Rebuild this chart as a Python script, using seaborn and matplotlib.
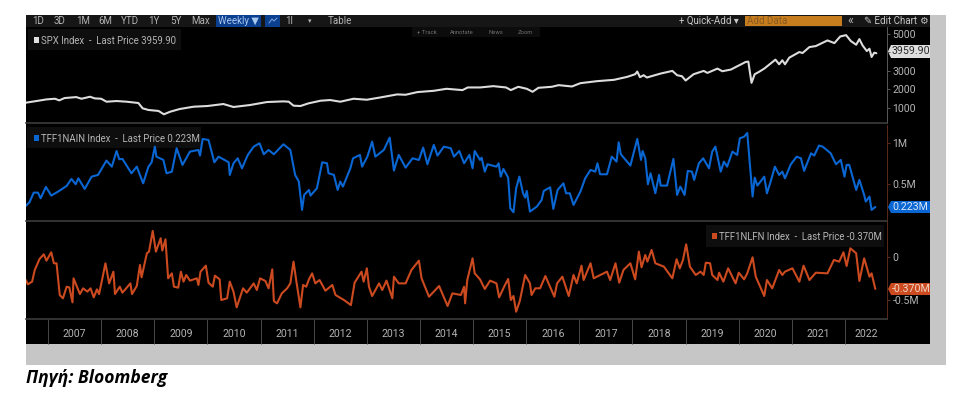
import matplotlib
matplotlib.use("Agg")
import matplotlib.pyplot as plt
from matplotlib.patches import Rectangle, Polygon
import numpy as np
import seaborn as sns

# values, x in fractional years
spx_t = [2006.58, 2006.78, 2006.97, 2007.13, 2007.21, 2007.31, 2007.53, 2007.63, 2007.79, 2007.88, 2008.0, 2008.10,
         2008.29, 2008.48, 2008.70, 2008.78, 2008.89, 2009.08, 2009.18, 2009.30, 2009.48, 2009.74, 2010.0, 2010.3,
         2010.49, 2010.8, 2011.12, 2011.43, 2011.53, 2011.62, 2011.75, 2011.9, 2012.13, 2012.31, 2012.5, 2012.75,
         2013.0, 2013.26, 2013.57, 2013.73, 2013.95, 2014.26, 2014.5, 2014.8, 2014.9, 2015.13, 2015.38, 2015.62,
         2015.71, 2015.85, 2016.01, 2016.12, 2016.23, 2016.48, 2016.61, 2016.86, 2017.02, 2017.33, 2017.65, 2017.9,
         2018.05, 2018.09, 2018.14, 2018.21, 2018.27, 2018.53, 2018.75, 2018.84, 2018.93, 2019.0, 2019.15, 2019.34,
         2019.41, 2019.6, 2019.69, 2019.85, 2020.13, 2020.18, 2020.24, 2020.3, 2020.38, 2020.48, 2020.69, 2020.76,
         2020.82, 2020.87, 2020.95, 2021.14, 2021.2, 2021.33, 2021.45, 2021.67, 2021.8, 2021.91, 2022.02, 2022.11,
         2022.21, 2022.27, 2022.33, 2022.41, 2022.46, 2022.5, 2022.55, 2022.59]
spx_v = [1286, 1376, 1465, 1500, 1412, 1537, 1590, 1500, 1608, 1519, 1500, 1340,
         1376, 1340, 1270, 982, 893, 840, 660, 800, 946, 1070, 1107, 1215,
         1054, 1160, 1322, 1358, 1340, 1125, 1107, 1250, 1394, 1430, 1340, 1500,
         1447, 1573, 1734, 1716, 1859, 1930, 2038, 1967, 2110, 2110, 2181, 2110,
         1967, 2146, 2038, 1877, 2092, 2146, 2235, 2163, 2342, 2450, 2522, 2683,
         2826, 2969, 2665, 2772, 2647, 2862, 3005, 2772, 2718, 2486, 2826, 3005,
         2897, 3130, 2987, 3076, 3488, 3506, 2360, 2826, 2951, 3130, 3613, 3363,
         3578, 3363, 3720, 4025, 3971, 4294, 4347, 4652, 4508, 4866, 4938, 4616,
         4419, 4723, 4383, 4079, 4204, 3757, 3990, 3960]

blue_t = [2006.58, 2006.65, 2006.73, 2006.81, 2006.86, 2006.96, 2007.06, 2007.19, 2007.35, 2007.44, 2007.52, 2007.57,
          2007.69, 2007.82, 2007.94, 2008.10, 2008.20, 2008.29, 2008.34, 2008.40, 2008.51, 2008.57, 2008.67, 2008.79,
          2008.84, 2008.89, 2008.95, 2009.01, 2009.04, 2009.17, 2009.23, 2009.33, 2009.42, 2009.53, 2009.67, 2009.83,
          2009.86, 2009.91, 2010.02, 2010.13, 2010.21, 2010.40, 2010.42, 2010.49, 2010.57, 2010.65, 2010.76, 2010.87,
          2010.98, 2011.06, 2011.15, 2011.25, 2011.43, 2011.56, 2011.59, 2011.65, 2011.72, 2011.78, 2011.82, 2011.91,
          2011.94, 2012.06, 2012.16, 2012.25, 2012.28, 2012.38, 2012.45, 2012.50, 2012.55, 2012.69, 2012.74, 2012.87,
          2012.91, 2013.01, 2013.10, 2013.16, 2013.32, 2013.43, 2013.51, 2013.60, 2013.73, 2013.86, 2013.98, 2014.06,
          2014.14, 2014.26, 2014.33, 2014.45, 2014.58, 2014.64, 2014.74, 2014.83, 2014.93, 2014.99, 2015.03, 2015.13,
          2015.16, 2015.22, 2015.27, 2015.44, 2015.48, 2015.52, 2015.57, 2015.66, 2015.70, 2015.76, 2015.81, 2015.87,
          2015.94, 2015.98, 2016.01, 2016.07, 2016.20, 2016.29, 2016.33, 2016.45, 2016.51, 2016.59, 2016.70, 2016.75,
          2016.82, 2016.89, 2017.02, 2017.11, 2017.21, 2017.30, 2017.34, 2017.39, 2017.52, 2017.61, 2017.70, 2017.74,
          2017.78, 2017.96, 2018.09, 2018.16, 2018.19, 2018.24, 2018.29, 2018.34, 2018.43, 2018.50, 2018.53, 2018.65,
          2018.77, 2018.84, 2018.90, 2018.98, 2019.04, 2019.12, 2019.16, 2019.25, 2019.33, 2019.44, 2019.50, 2019.56,
          2019.66, 2019.72, 2019.78, 2019.88, 2019.97, 2020.02, 2020.10, 2020.16, 2020.26, 2020.30, 2020.35, 2020.48,
          2020.53, 2020.60, 2020.68, 2020.76, 2020.82, 2020.87, 2020.98, 2021.09, 2021.17, 2021.23, 2021.36, 2021.42,
          2021.51, 2021.58, 2021.73, 2021.83, 2021.92, 2021.99, 2022.03, 2022.08, 2022.21, 2022.27, 2022.36, 2022.39,
          2022.46, 2022.50, 2022.57]
blue_v = [.236, .28, .398, .398, .329, .467, .362, .411, .48, .565, .5, .573,
          .443, .593, .614, .789, .715, .906, .805, .809, .695, .634, .715, .512,
          .614, .715, .768, .959, .837, .797, .634, .654, .939, .736, .898, .919,
          .85, 1.053, 1.04, .768, .837, .768, .614, .756, .817, .695, .858, .959,
          1.0, .866, .919, .866, .988, .919, .817, .614, .533, .187, .37, .431,
          .362, .451, .768, .756, .634, .614, .431, .533, .472, .695, .817, .858,
          .715, .837, 1.02, .837, .919, 1.069, .667, .858, .703, .817, .797, .947,
          .744, .98, .85, .959, .939, .837, .906, .756, .858, .695, .906, .797,
          .825, .654, .744, .715, .756, .593, .687, .581, .207, .159, .451, .593,
          .39, .337, .419, .167, .228, .309, .419, .463, .199, .431, .512, .39,
          .39, .248, .411, .573, .675, .654, .756, .622, .622, .837, .776, 1.012,
          .866, .728, 1.053, .797, .906, .817, .5, .634, .39, .614, .484, .484,
          .809, .37, .472, .37, .663, .654, .553, .756, .817, .695, .898, .959,
          .654, .776, .715, .898, .858, 1.061, 1.08, 1.126, .35, .581, .484, .593,
          .39, .533, .715, .614, .654, .573, .744, .837, .817, .663, .878, .85,
          .972, .959, .878, .744, .797, .593, .736, .736, .431, .553, .37, .289,
          .35, .187, .223]

orange_t = [2006.58, 2006.62, 2006.70, 2006.75, 2006.84, 2006.92, 2006.97, 2007.06, 2007.11, 2007.16, 2007.22, 2007.28,
            2007.35, 2007.40, 2007.46, 2007.48, 2007.60, 2007.66, 2007.74, 2007.80, 2007.86, 2007.92, 2007.96, 2008.01,
            2008.08, 2008.15, 2008.23, 2008.26, 2008.35, 2008.40, 2008.55, 2008.58, 2008.67, 2008.73, 2008.76, 2008.86,
            2008.90, 2008.97, 2009.03, 2009.12, 2009.15, 2009.21, 2009.26, 2009.33, 2009.37, 2009.45, 2009.50, 2009.55,
            2009.60, 2009.67, 2009.80, 2009.83, 2009.87, 2009.97, 2010.02, 2010.10, 2010.14, 2010.23, 2010.26, 2010.37,
            2010.42, 2010.49, 2010.55, 2010.67, 2010.74, 2010.87, 2010.93, 2010.99, 2011.09, 2011.15, 2011.22, 2011.25,
            2011.31, 2011.40, 2011.50, 2011.56, 2011.62, 2011.67, 2011.75, 2011.80, 2011.86, 2011.91, 2011.97, 2012.03,
            2012.11, 2012.22, 2012.35, 2012.41, 2012.57, 2012.70, 2012.77, 2012.90, 2012.94, 2013.0, 2013.04, 2013.10,
            2013.23, 2013.29, 2013.37, 2013.48, 2013.51, 2013.60, 2013.73, 2013.84, 2013.98, 2014.03, 2014.17, 2014.36,
            2014.52, 2014.61, 2014.77, 2014.83, 2014.85, 2014.89, 2014.99, 2015.03, 2015.13, 2015.22, 2015.32, 2015.44,
            2015.49, 2015.60, 2015.66, 2015.71, 2015.76, 2015.81, 2015.88, 2015.98, 2016.07, 2016.10, 2016.17, 2016.26,
            2016.36, 2016.46, 2016.53, 2016.58, 2016.68, 2016.80, 2016.89, 2016.95, 2017.04, 2017.08, 2017.21, 2017.27,
            2017.52, 2017.58, 2017.68, 2017.75, 2017.83, 2017.96, 2018.05, 2018.12, 2018.17, 2018.24, 2018.28, 2018.36,
            2018.43, 2018.59, 2018.75, 2018.83, 2018.89, 2018.95, 2019.01, 2019.08, 2019.19, 2019.28, 2019.34, 2019.38,
            2019.46, 2019.50, 2019.60, 2019.63, 2019.71, 2019.80, 2019.94, 2020.0, 2020.10, 2020.16, 2020.26, 2020.32,
            2020.48, 2020.53, 2020.63, 2020.76, 2020.82, 2020.87, 2021.01, 2021.14, 2021.22, 2021.33, 2021.45, 2021.67,
            2021.79, 2021.89, 2021.97, 2022.03, 2022.10, 2022.21, 2022.27, 2022.36, 2022.46, 2022.50, 2022.57]
orange_v = [-.266, -.316, -.285, -.148, -.02, .035, -.039, .059, -.07, -.07, -.441, -.48,
            -.344, -.352, -.527, -.246, -.43, -.363, -.402, -.363, -.469, -.375, -.43, -.285,
            -.07, -.305, -.168, -.43, -.344, -.414, -.305, -.43, -.336, -.09, -.234, .047,
            .066, .309, .066, .223, .078, .211, -.246, -.188, -.344, -.355, -.168, -.285,
            -.207, -.273, -.246, -.324, -.168, -.098, -.297, -.344, -.215, -.258, -.5, -.48,
            -.285, -.402, -.586, -.363, -.414, -.305, -.383, -.246, -.277, -.363, -.141, -.512,
            -.539, -.422, -.363, -.305, -.051, -.266, -.586, -.324, -.344, -.258, -.188, -.305,
            -.266, -.391, -.324, -.441, -.5, -.559, -.297, -.168, -.285, -.129, -.344, -.453,
            -.305, -.383, -.273, -.48, -.227, -.305, -.305, -.148, -.039, -.246, -.461, -.336,
            -.57, -.422, -.441, -.344, -.539, -.266, -.012, -.188, -.258, -.371, -.273, -.305,
            -.469, -.324, -.254, -.5, -.453, -.637, -.508, -.207, -.305, -.441, -.363, -.363,
            -.219, -.363, -.461, -.305, -.227, -.453, -.207, -.305, -.098, -.266, -.07, -.246,
            -.168, -.266, -.07, -.297, -.148, -.07, -.258, .066, -.117, .027, -.051, .086,
            -.07, -.109, -.246, -.023, -.129, -.031, .152, -.109, -.207, -.168, -.207, -.063,
            -.07, -.207, -.266, -.18, -.285, -.129, -.305, -.18, -.258, -.188, 0, -.227,
            -.453, -.266, -.363, -.148, -.207, -.168, -.129, -.285, -.098, -.266, -.18, -.188,
            -.031, -.051, .059, -.102, .105, .047, -.277, -.012, -.227, -.188, -.37]

year_labels = ["2007", "2008", "2009", "2010", "2011", "2012", "2013", "2014", "2015", "2016", "2017", "2018",
               "2019", "2020", "2021", "2022"]
year_starts = [2007, 2008, 2009, 2010, 2011, 2012, 2013, 2014, 2015, 2016, 2017, 2018, 2019, 2020, 2021, 2022]
year_mids = [2007.5, 2008.5, 2009.5, 2010.5, 2011.5, 2012.5, 2013.5, 2014.5, 2015.5, 2016.5, 2017.5, 2018.5,
             2019.5, 2020.5, 2021.5, 2022.4]

range_buttons = ["1D", "3D", "1M", "6M", "YTD", "1Y", "5Y", "Max"]
range_button_x = [38, 60, 83, 105, 130, 154, 176, 201]

WHITE = "#dcdcdc"
BLUE = "#0a66d2"
ORANGE = "#cc4a1f"
TXT = "#b4b4b4"

sns.set_theme(style="dark")
plt.rcParams["font.family"] = ["Roboto", "DejaVu Sans"]

W, H = 963, 395
fig = plt.figure(figsize=(W / 100, H / 100), dpi=100, facecolor="white")

# page, toolbar, legends and tags drawn in pixel coordinates behind the charts
ui = fig.add_axes([0, 0, 1, 1], zorder=0)
ui.set_xlim(0, W)
ui.set_ylim(H, 0)
ui.axis("off")


def box(x0, y0, x1, y1, color):
    ui.add_patch(Rectangle((x0, y0), x1 - x0, y1 - y0, facecolor=color, edgecolor="none"))


box(26, 15, 946, 365, "#c6c6c6")
box(26, 15, 930, 344, "#000000")
box(26, 15, 930, 27, "#161616")

# toolbar
for name, x in zip(range_buttons, range_button_x):
    ui.text(x, 21, name, color=TXT, fontsize=7, ha="center", va="center")
box(216, 15, 261, 27, "#0b3f8f")
ui.text(238, 21, "Weekly ▼", color="#a9c8f0", fontsize=7, ha="center", va="center")
box(265, 15, 280, 27, "#0b3f8f")
ui.plot([269, 272, 274, 277], [23, 19, 21, 18], color="#7fa8e0", lw=0.7)
ui.text(289, 21, "1l", color=TXT, fontsize=7, ha="center", va="center")
ui.text(310, 21, "▾", color=TXT, fontsize=5, ha="center", va="center", family=["DejaVu Sans"])
ui.text(340, 21, "Table", color=TXT, fontsize=7, ha="center", va="center")
ui.text(709, 21, "+ Quick-Add ▾", color="#c8c8c8", fontsize=7, ha="center", va="center")
box(745, 16, 842, 26, "#c77d1e")
ui.text(747, 21, "Add Data", color="#8a5a20", fontsize=7, ha="left", va="center")
ui.text(850, 20.5, "«", color=TXT, fontsize=9, ha="center", va="center")
ui.text(891, 21, "✎ Edit Chart", color="#c8c8c8", fontsize=7, ha="center", va="center")
ui.text(923, 21, "⚙", color="#c0c0c0", fontsize=7, ha="center", va="center", family=["DejaVu Sans"])

# small chart buttons
box(412, 27, 540, 37, "#0c0c0c")
for name, x in zip(["+ Track", "Annotate", "News", "Zoom"], [427, 462, 496, 525]):
    ui.text(x, 32, name, color="#6e6e6e", fontsize=4.2, ha="center", va="center")

# legends
box(28, 29, 181, 50, "#0e0e0e")
box(33.5, 37, 39, 43, "#e0e0e0")
ui.text(41, 40.5, "SPX Index  -  Last Price 3959.90", color=TXT, fontsize=6.9, ha="left", va="center")
box(27, 127, 201, 148, "#0e0e0e")
box(34, 135, 39, 141, BLUE)
ui.text(41, 138.5, "TFF1NAIN Index  -  Last Price 0.223M", color=TXT, fontsize=6.9, ha="left", va="center")
box(706, 225, 884, 247, "#0e0e0e")
box(712, 233, 717, 239, ORANGE)
ui.text(719, 236.5, "TFF1NLFN Index  -  Last Price -0.370M", color=TXT, fontsize=6.9, ha="left", va="center")

# last value tags
for y0, y1, color, label, tc in [(45, 58, "#dedede", "3959.90", "#2a2a2a"),
                                 (201, 213, BLUE, "0.223M", "#d8e6f8"),
                                 (283, 295, ORANGE, "-0.370M", "#f0d8c8")]:
    ui.add_patch(Polygon([(888, (y0 + y1) / 2), (891, y0), (930, y0), (930, y1), (891, y1)],
                         facecolor=color, edgecolor="none"))
    ui.text(892, (y0 + y1) / 2, label, color=tc, fontsize=7.7, ha="left", va="center")

ui.text(26, 378, "Πηγή: Bloomberg", color="#000000", fontsize=12.6, fontweight="bold", style="italic",
        ha="left", va="center", family=["Open Sans", "DejaVu Sans"])


def panel(top, bottom, ylim, ticks, labels, t, v, color, tick_color):
    ax = fig.add_axes([26 / W, 1 - bottom / H, (887 - 26) / W, (bottom - top) / H], zorder=1)
    sns.lineplot(x=t, y=v, ax=ax, color=color, linewidth=1.5, estimator=None, sort=False)
    ax.set_facecolor("none")
    ax.set_xlim(2006.585, 2022.79)
    ax.set_ylim(*ylim)
    ax.set_xlabel("")
    ax.set_ylabel("")
    ax.grid(False)
    ax.yaxis.tick_right()
    ax.set_yticks(ticks)
    ax.set_yticklabels(labels)
    ax.tick_params(axis="y", which="major", left=False, right=True, length=2.5, width=0.7, color=tick_color,
                   labelcolor=TXT, labelsize=7.6, pad=1.5)
    ax.set_xticks([])
    for name in ["left", "top"]:
        ax.spines[name].set_visible(False)
    ax.spines["right"].set_color(tick_color)
    ax.spines["right"].set_linewidth(0.7)
    ax.spines["bottom"].set_color("#3c3c3c")
    ax.spines["bottom"].set_linewidth(1.2)
    return ax


ax1 = panel(27, 123, (189, 5378), [1000, 2000, 3000, 4000, 5000], ["1000", "2000", "3000", "", "5000"],
            spx_t, spx_v, WHITE, "#5a5a5a")
ax2 = panel(125, 221, (0.052, 1.223), [0.5, 1.0], ["0.5M", "1M"], blue_t, blue_v, BLUE, "#5a2a18")
ax3 = panel(222, 319, (-0.722, 0.413), [-0.5, 0], ["-0.5M", "0"], orange_t, orange_v, ORANGE, "#5a2a18")

ax3.set_xticks(year_starts)
ax3.set_xticklabels([])
ax3.tick_params(axis="x", which="major", bottom=True, length=18, width=0.7, color="#484848")
ax3.set_xticks(year_mids, minor=True)
ax3.set_xticklabels(year_labels, minor=True)
ax3.tick_params(axis="x", which="minor", bottom=False, length=0, labelcolor=TXT, labelsize=7.6, pad=7)

fig.savefig("out.png", dpi=100, facecolor="white")
